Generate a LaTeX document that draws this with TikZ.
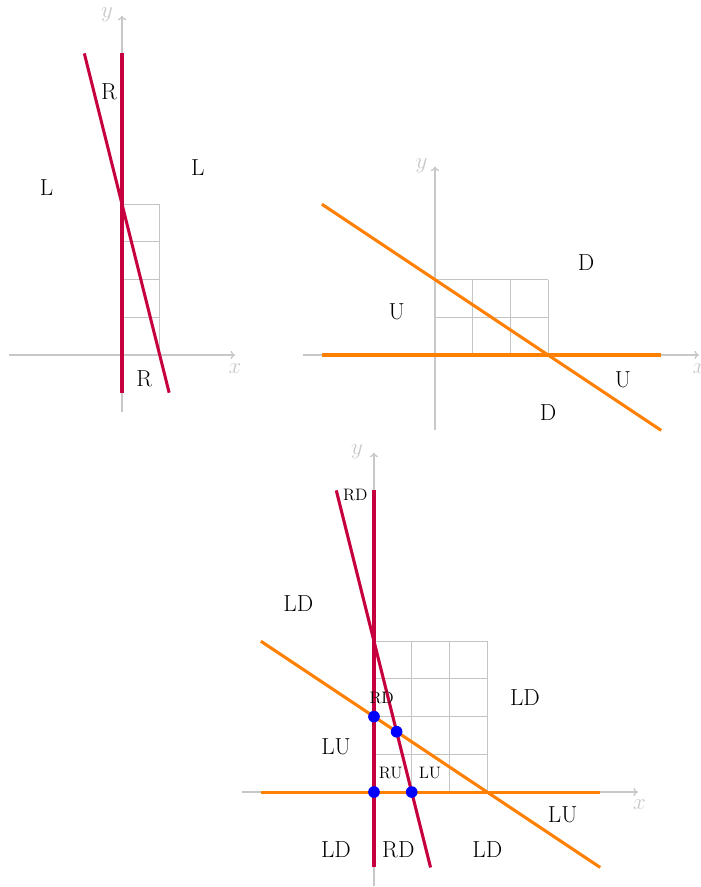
\documentclass[tikz,border=0pt]{standalone}
\usepackage{fontspec}
\usetikzlibrary{arrows.meta}
\definecolor{myred}{RGB}{198,0,62}
\definecolor{myorange}{RGB}{255,127,0}
\definecolor{axgray}{RGB}{200,200,200}
\definecolor{grgray}{RGB}{196,196,196}
\begin{document}
\begin{tikzpicture}[
  redl/.style={draw=myred, line width=2.3pt},
  orl/.style={draw=myorange, line width=2.3pt},
  axisl/.style={draw=axgray, line width=1pt, -{To[length=1.2mm,width=2.2mm]}},
  gridl/.style={draw=grgray, line width=0.7pt},
  axlab/.style={text=axgray, font=\fontsize{18}{20}\selectfont, inner sep=0pt},
  lab/.style={text=black, font=\fontsize{17.5}{20}\selectfont, inner sep=0pt},
  slab/.style={text=black, font=\fontsize{12.5}{14}\selectfont, inner sep=0pt},
  dot/.style={circle, fill=blue, draw=none, inner sep=0pt, minimum size=0.31cm}
]
\useasboundingbox (-3.236,-14.111) rectangle (15.332,9.416);

% ---------- Panel 1 (top left) ----------
\begin{scope}
  \draw[gridl] (0,0) grid (1,4);
  \coordinate (pAxl) at (-3,0);  \coordinate (pAxr) at (3,0);
  \coordinate (pAyb) at (0,-1.5); \coordinate (pAyt) at (0,9);
  \draw[axisl] (pAxl) -- (pAxr);
  \draw[axisl] (pAyb) -- (pAyt);
  \node[axlab] (pAx) at (3.0,-0.37) {$x$};
  \node[axlab] (pAy) at (-0.40,9.02) {$y$};
  \coordinate (pAr1a) at (0,-1);  \coordinate (pAr1b) at (0,8);
  \coordinate (pAr2a) at (-1,8);  \coordinate (pAr2b) at (1.25,-1);
  \draw[redl] (pAr1a) -- (pAr1b);
  \draw[redl] (pAr2a) -- (pAr2b);
  \node[lab] (pAl1) at (-0.345,6.976) {R};
  \node[lab] (pAl2) at (-2.0,4.43) {L};
  \node[lab] (pAl3) at (2.01,4.96) {L};
  \node[lab] (pAl4) at (0.59,-0.64) {R};
\end{scope}

% ---------- Panel 2 (top right) ----------
\begin{scope}[shift={(8.302,0)}]
  \draw[gridl] (0,0) grid (3,2);
  \coordinate (pBxl) at (-3.5,0);  \coordinate (pBxr) at (7,0);
  \coordinate (pByb) at (0,-2); \coordinate (pByt) at (0,5);
  \draw[axisl] (pBxl) -- (pBxr);
  \draw[axisl] (pByb) -- (pByt);
  \node[axlab] (pBx) at (7.0,-0.37) {$x$};
  \node[axlab] (pBy) at (-0.36,5.03) {$y$};
  \coordinate (pBo1a) at (-3,0);  \coordinate (pBo1b) at (6,0);
  \coordinate (pBo2a) at (-3,4);  \coordinate (pBo2b) at (6,-2);
  \draw[orl] (pBo1a) -- (pBo1b);
  \draw[orl] (pBo2a) -- (pBo2b);
  \node[lab] (pBl1) at (4.005,2.44) {D};
  \node[lab] (pBl2) at (-1.016,1.149) {U};
  \node[lab] (pBl3) at (4.987,-0.663) {U};
  \node[lab] (pBl4) at (2.997,-1.538) {D};
\end{scope}

% ---------- Panel 3 (bottom) ----------
\begin{scope}[shift={(6.684,-11.592)}]
  \draw[gridl] (0,0) grid (3,4);
  \coordinate (pCxl) at (-3.5,0);  \coordinate (pCxr) at (7,0);
  \coordinate (pCyb) at (0,-2.5); \coordinate (pCyt) at (0,9);
  \draw[axisl] (pCxl) -- (pCxr);
  \draw[axisl] (pCyb) -- (pCyt);
  \node[axlab] (pCx) at (7.04,-0.345) {$x$};
  \node[axlab] (pCy) at (-0.45,9.03) {$y$};
  \coordinate (pCr1a) at (0,-2);  \coordinate (pCr1b) at (0,8);
  \coordinate (pCr2a) at (-1,8);  \coordinate (pCr2b) at (1.5,-2);
  \coordinate (pCo1a) at (-3,0);  \coordinate (pCo1b) at (6,0);
  \coordinate (pCo2a) at (-3,4);  \coordinate (pCo2b) at (6,-2);
  \draw[redl] (pCr1a) -- (pCr1b);
  \draw[redl] (pCr2a) -- (pCr2b);
  \draw[orl] (pCo1a) -- (pCo1b);
  \draw[orl] (pCo2a) -- (pCo2b);
  \node[dot] (pCd1) at (0,2) {};
  \node[dot] (pCd2) at (0.6,1.6) {};
  \node[dot] (pCd3) at (0,0) {};
  \node[dot] (pCd4) at (1,0) {};
  \node[slab] (pCl1) at (-0.496,7.891) {RD};
  \node[lab]  (pCl2) at (-2.008,4.987) {LD};
  \node[lab]  (pCl3) at (4.005,2.493) {LD};
  \node[slab] (pCl4) at (0.204,2.493) {RD};
  \node[lab]  (pCl5) at (-1.008,1.194) {LU};
  \node[slab] (pCl6) at (0.443,0.504) {RU};
  \node[slab] (pCl7) at (1.485,0.504) {LU};
  \node[lab]  (pCl8) at (5.005,-0.61) {LU};
  \node[lab]  (pCl9) at (-1.008,-1.538) {LD};
  \node[lab]  (pCl10) at (0.645,-1.538) {RD};
  \node[lab]  (pCl11) at (3.005,-1.538) {LD};
\end{scope}
\end{tikzpicture}
\end{document}
